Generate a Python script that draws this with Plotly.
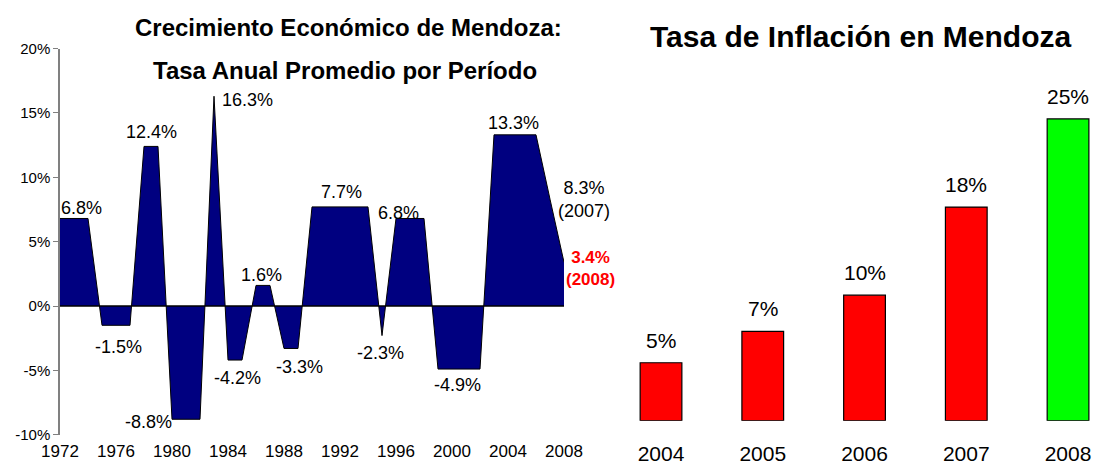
import plotly.graph_objects as go

# ---------------- data ----------------
# Left chart: annual growth (period averages), 1972-2008
years = list(range(1972, 2009))
growth = [6.8, 6.8, 6.8, -1.5, -1.5, -1.5, 12.4, 12.4, -8.8, -8.8, -8.8, 16.3,
          -4.2, -4.2, 1.6, 1.6, -3.3, -3.3, 7.7, 7.7, 7.7, 7.7, 7.7, -2.3,
          6.8, 6.8, 6.8, -4.9, -4.9, -4.9, -4.9, 13.3, 13.3, 13.3, 13.3, 8.3, 3.4]
year_ticks = list(range(1972, 2009, 4))
y_ticks = [-10, -5, 0, 5, 10, 15, 20]

# period labels (value shown) and where their text sits (layout)
period_values = [6.8, -1.5, 12.4, -8.8, 16.3, -4.2, 1.6, -3.3, 7.7, -2.3, 6.8, -4.9, 13.3]
label_x = [1973.5, 1976.2, 1978.55, 1978.3, 1985.4, 1984.7, 1986.4, 1989.1,
           1992.1, 1994.9, 1996.2, 2000.4, 2004.4]
label_y = [7.61, -3.16, 13.54, -9.01, 16.0, -5.59, 2.41, -4.72, 8.88, -3.68, 7.25, -6.14, 14.2]
# text positions (year units) of the labels for the last two points, right of the plot
end_label_x = [2009.4, 2009.9]
end_label_y = [8.26, 2.95]

# Right chart: inflation
infl_years = [2004, 2005, 2006, 2007, 2008]
inflation = [4.8, 7.4, 10.4, 17.7, 25.0]
infl_colors = ["#FF0000", "#FF0000", "#FF0000", "#FF0000", "#00FF00"]

FONT = "Liberation Sans, Arial, sans-serif"
W, H = 1095, 471

# left plot area in pixels
L_X0, L_X1 = 60, 564
L_YTOP, L_YBOT = 48.6, 434.7
X_RANGE = [1972, 2008]
Y_RANGE = [-10, 20]


def px_x(p):
    return p / W


def px_y(p):
    return 1 - p / H


def year_to_paper(yr):
    p = L_X0 + (yr - X_RANGE[0]) / (X_RANGE[1] - X_RANGE[0]) * (L_X1 - L_X0)
    return px_x(p)


def val_to_paper(v):
    p = L_YBOT - (v - Y_RANGE[0]) / (Y_RANGE[1] - Y_RANGE[0]) * (L_YBOT - L_YTOP)
    return px_y(p)


fig = go.Figure()

fig.add_trace(go.Scatter(
    x=years, y=growth, mode="lines", fill="tozeroy",
    fillcolor="#000080", line=dict(color="black", width=1),
    xaxis="x", yaxis="y", hoverinfo="x+y", showlegend=False,
))

fig.add_trace(go.Bar(
    x=infl_years, y=inflation, marker=dict(color=infl_colors, line=dict(color="black", width=1.2)),
    width=0.41, xaxis="x2", yaxis="y2", showlegend=False,
))

annotations = []
for xv, yv, v in zip(label_x, label_y, period_values):
    annotations.append(dict(x=xv, y=yv, xref="x", yref="y", text=f"{v:.1f}%",
                            showarrow=False, font=dict(size=18, color="black", family=FONT),
                            xanchor="center", yanchor="middle"))

# last two points (2007, 2008) labelled on the right of the series
annotations.append(dict(x=year_to_paper(end_label_x[0]), y=val_to_paper(end_label_y[0]),
                        xref="paper", yref="paper",
                        text=f"{growth[-2]:.1f}%<br>({years[-2]})", showarrow=False,
                        font=dict(size=18, color="black", family=FONT),
                        xanchor="center", yanchor="middle"))
annotations.append(dict(x=year_to_paper(end_label_x[1]), y=val_to_paper(end_label_y[1]),
                        xref="paper", yref="paper",
                        text=f"<b>{growth[-1]:.1f}%<br>({years[-1]})</b>", showarrow=False,
                        font=dict(size=17, color="#FF0000", family=FONT),
                        xanchor="center", yanchor="middle"))

# bar labels
for xv, v in zip(infl_years, inflation):
    annotations.append(dict(x=xv, y=v, xref="x2", yref="y2", text=f"{round(v)}%",
                            showarrow=False, font=dict(size=21, color="black", family=FONT),
                            xanchor="center", yanchor="bottom", yshift=9))

# titles
annotations.append(dict(x=px_x(348.7), y=px_y(28), xref="paper", yref="paper",
                        text="<b>Crecimiento Económico de Mendoza:</b>", showarrow=False,
                        font=dict(size=24, color="black", family=FONT),
                        xanchor="center", yanchor="middle"))
annotations.append(dict(x=px_x(344.7), y=px_y(71), xref="paper", yref="paper",
                        text="<b>Tasa Anual Promedio por Período</b>", showarrow=False,
                        font=dict(size=24, color="black", family=FONT),
                        xanchor="center", yanchor="middle"))
annotations.append(dict(x=px_x(860.5), y=px_y(37), xref="paper", yref="paper",
                        text="<b>Tasa de Inflación en Mendoza</b>", showarrow=False,
                        font=dict(size=30, color="black", family=FONT),
                        xanchor="center", yanchor="middle"))

fig.update_layout(
    width=W, height=H,
    margin=dict(l=0, r=0, t=0, b=0, autoexpand=False),
    paper_bgcolor="white", plot_bgcolor="white",
    font=dict(family=FONT, color="black"),
    xaxis=dict(domain=[px_x(L_X0), px_x(L_X1)], range=X_RANGE, tickvals=year_ticks,
               ticktext=[str(y) for y in year_ticks], showgrid=False, zeroline=False,
               showline=False, ticks="", tickfont=dict(size=17), anchor="y",
               ticklabelstandoff=4, automargin=False),
    yaxis=dict(domain=[px_y(L_YBOT), px_y(L_YTOP)], range=Y_RANGE, tickvals=y_ticks,
               ticktext=[f"{t}%" for t in y_ticks], showgrid=False, zeroline=False,
               showline=True, linecolor="#808080", linewidth=1.5, ticks="outside", ticklen=5,
               tickcolor="#808080", tickfont=dict(size=15), anchor="x", automargin=False),
    xaxis2=dict(domain=[px_x(620), 1.0], range=[2003.597, 2008.265], tickvals=infl_years,
                ticktext=[str(y) for y in infl_years],
                showgrid=False, zeroline=False, showline=False, ticks="",
                tickfont=dict(size=21), anchor="y2", ticklabelstandoff=18, automargin=False),
    yaxis2=dict(domain=[px_y(420.7), px_y(58.6)], range=[0, 30], visible=False,
                anchor="x2", automargin=False),
    shapes=[dict(type="line", xref="x domain", yref="y", x0=0, x1=1, y0=0, y1=0,
                 line=dict(color="black", width=1.5), layer="above")],
    annotations=annotations,
)

fig.write_html(
    "out.html",
    config={"displayModeBar": False},
    post_script="document.body.style.margin='0';document.body.style.overflow='hidden';",
)
